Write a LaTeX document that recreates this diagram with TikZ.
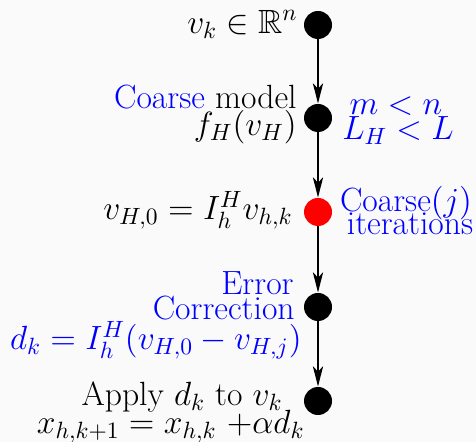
\RequirePackage{fix-cm}
\documentclass[tikz,border=0pt]{standalone}
\usepackage{amsmath,amssymb}
\usetikzlibrary{arrows.meta,positioning}

\tikzset{
  pt/.style={circle, fill=black, minimum size=14pt, inner sep=0pt},
  lbl/.style={inner sep=0pt},
  flow/.style={line width=1.4pt, -{Stealth[length=10pt,width=5pt,inset=2.5pt]}}
}

\begin{document}
\begin{tikzpicture}[x=0.5pt, y=-0.5pt, every node/.style={font=\fontsize{16.8}{20}\selectfont}]
        \fill[black!2] (0,0) rectangle (476,442);
        \useasboundingbox (0,0) rectangle (476,442);

        % the five steps
        \node[pt] (start) at (318,25) {};
        \node[pt] (coarse) at (318,118) {};
        \node[pt, fill=red] (iter) at (318,212) {};
        \node[pt] (corr) at (318,307) {};
        \node[pt] (apply) at (318,401) {};

        \draw[flow] (start) -- (coarse);
        \draw[flow] (coarse) -- (iter);
        \draw[flow] (iter) -- (corr);
        \draw[flow] (corr) -- (apply);

        % left labels
        \node[lbl, anchor=east] (vk) at (298,24) {$v_k \in \mathbb{R}^n$};
        \node[lbl, anchor=east] (cmodel) at (297,97) {\textcolor{blue}{Coarse} model};
        \node[lbl, anchor=east] (fH) at (297,127) {$f_H(v_H)$};
        \node[lbl, anchor=east] (restrict) at (293,210) {$v_{H,0} = I_h^H v_{h,k}$};
        \node[lbl, anchor=east, text=blue] (err) at (294,283) {Error};
        \node[lbl, anchor=east, text=blue] (correction) at (295,308) {Correction};
        \node[lbl, anchor=east, text=blue] (dk) at (302,340) {$d_k = I_h^H(v_{H,0} - v_{H,j})$};
        \node[lbl, anchor=east] (applytxt) at (283,397) {Apply $d_k$ to $v_k$};
        \node[lbl, anchor=east] (update) at (305,427) {$x_{h,k+1} = x_{h,k}\ {+}\alpha d_k$};

        % right labels
        \node[lbl, text=blue] (mn) at (396,106) {$m < n$};
        \node[lbl, text=blue] (LH) at (398,131) {$L_H < L$};
        \node[lbl, text=blue] (cj) at (406,203) {Coarse$(j)$};
        \node[lbl, text=blue] (its) at (410,224) {iterations};
    \end{tikzpicture}
\end{document}
